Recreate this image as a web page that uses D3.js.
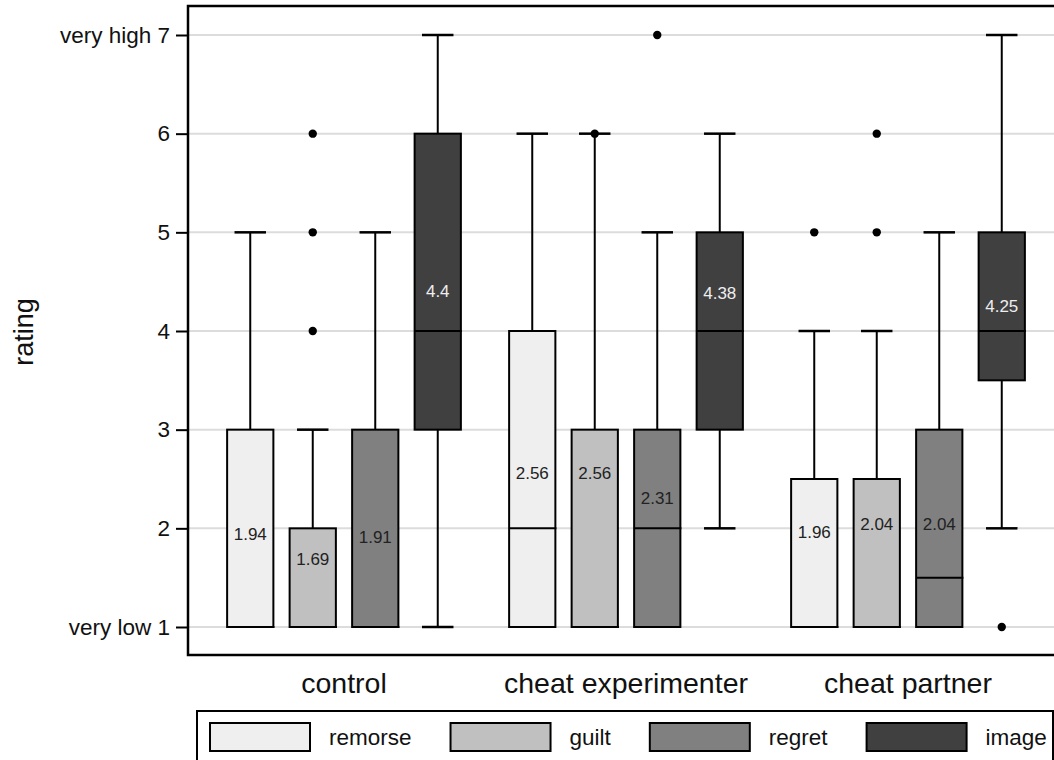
<!DOCTYPE html>
<html><head><meta charset="utf-8">
<script src="https://cdn.jsdelivr.net/npm/d3@7"></script>
<style>body{margin:0;background:#fff}svg{display:block;font-family:"Liberation Sans",Arial,sans-serif}</style>
</head><body>
<script>
const groups = ["control", "cheat experimenter", "cheat partner"];
const series = ["remorse", "guilt", "regret", "image"];
const colors = ["#efefef", "#c0c0c0", "#808080", "#404040"];
const labelColors = ["#222", "#222", "#222", "#eeeeee"];
const yTicks = [1, 2, 3, 4, 5, 6, 7];
const yTickLabels = ["very low 1", "2", "3", "4", "5", "6", "very high 7"];
// per group, per series: [lowWhisker, q1, median, q3, highWhisker]
const boxStats = [
  [[1,1,1,3,5],[1,1,1,2,3],[1,1,1,3,5],[1,3,4,6,7]],
  [[1,1,2,4,6],[1,1,1,3,6],[1,1,2,3,5],[2,3,4,5,6]],
  [[1,1,1,2.5,4],[1,1,1,2.5,4],[1,1,1.5,3,5],[2,3.5,4,5,7]]
];
const outliers = [
  [[],[4,5,6],[],[]],
  [[],[6],[7],[]],
  [[5],[5,6],[],[1]]
];
const means = [
  [1.94, 1.69, 1.91, 4.4],
  [2.56, 2.56, 2.31, 4.38],
  [1.96, 2.04, 2.04, 4.25]
];

const W = 1054, H = 760;
const svg = d3.select("body").append("svg").attr("width", W).attr("height", H);
const plotL = 188, plotT = 6, plotB = 655;
const y = d3.scaleLinear().domain([1, 7]).range([627, 35]);
const xg = d3.scaleBand().domain(groups).range([203, 1049]);
const xs = d3.scaleBand().domain(series).range([-125, 125]).paddingInner(0.26).paddingOuter(0.13);
const bw = xs.bandwidth();

// gridlines
svg.append("g").selectAll("line").data(yTicks).join("line")
  .attr("x1", plotL).attr("x2", W).attr("y1", d => y(d)).attr("y2", d => y(d))
  .attr("stroke", "#dcdcdc").attr("stroke-width", 2);

// y axis
const yAxis = d3.axisLeft(y).tickValues(yTicks).tickSize(12).tickPadding(6)
  .tickFormat((d, i) => yTickLabels[i]);
const ga = svg.append("g").attr("transform", `translate(${plotL},0)`).call(yAxis);
ga.select(".domain").remove();
ga.selectAll(".tick line").attr("stroke", "#000").attr("stroke-width", 2);
ga.selectAll(".tick text").attr("font-size", 22.5).attr("fill", "#111")
  .attr("font-family", "Liberation Sans, Arial, sans-serif");

// frame
svg.append("path").attr("d", `M${W+5},${plotT}H${plotL}V${plotB}H${W+5}`)
  .attr("fill", "none").attr("stroke", "#000").attr("stroke-width", 2.5);

// boxes
groups.forEach((g, gi) => {
  series.forEach((s, si) => {
    const [lo, q1, med, q3, hi] = boxStats[gi][si];
    const cx = xg(g) + xg.bandwidth() / 2 + xs(s) + bw / 2;
    const cap = bw * 0.68;
    const gg = svg.append("g");
    if (hi > q3) {
      gg.append("line").attr("x1", cx).attr("x2", cx).attr("y1", y(q3)).attr("y2", y(hi)).attr("stroke", "#000").attr("stroke-width", 2);
      gg.append("line").attr("x1", cx - cap/2).attr("x2", cx + cap/2).attr("y1", y(hi)).attr("y2", y(hi)).attr("stroke", "#000").attr("stroke-width", 2.5);
    }
    if (lo < q1) {
      gg.append("line").attr("x1", cx).attr("x2", cx).attr("y1", y(q1)).attr("y2", y(lo)).attr("stroke", "#000").attr("stroke-width", 2);
      gg.append("line").attr("x1", cx - cap/2).attr("x2", cx + cap/2).attr("y1", y(lo)).attr("y2", y(lo)).attr("stroke", "#000").attr("stroke-width", 2.5);
    }
    gg.append("rect").attr("x", cx - bw/2).attr("y", y(q3)).attr("width", bw).attr("height", y(q1) - y(q3))
      .attr("fill", colors[si]).attr("stroke", "#000").attr("stroke-width", 2);
    gg.append("line").attr("x1", cx - bw/2).attr("x2", cx + bw/2 + 1).attr("y1", y(med)).attr("y2", y(med))
      .attr("stroke", "#000").attr("stroke-width", 2);
    gg.selectAll("circle").data(outliers[gi][si]).join("circle")
      .attr("cx", cx).attr("cy", d => y(d)).attr("r", 4.2).attr("fill", "#000");
    gg.append("text").attr("x", cx).attr("y", y(means[gi][si])).attr("dy", "0.35em")
      .attr("text-anchor", "middle").attr("font-size", 17).attr("fill", labelColors[si])
      .text(means[gi][si]);
  });
});

// group labels
svg.append("g").selectAll("text").data(groups).join("text")
  .attr("x", d => xg(d) + xg.bandwidth() / 2).attr("y", 693)
  .attr("text-anchor", "middle").attr("font-size", 28.5).attr("fill", "#111").text(d => d);

// y label
svg.append("text").attr("transform", `translate(33,332) rotate(-90)`)
  .attr("text-anchor", "middle").attr("font-size", 27).attr("fill", "#111").text("rating");

// legend
const lg = svg.append("g");
lg.append("rect").attr("x", 197).attr("y", 711).attr("width", 856).attr("height", 60)
  .attr("fill", "#fff").attr("stroke", "#000").attr("stroke-width", 2);
let lx = 210;
series.forEach((s, si) => {
  lg.append("rect").attr("x", lx).attr("y", 723).attr("width", 100).attr("height", 28)
    .attr("fill", colors[si]).attr("stroke", "#000").attr("stroke-width", 2);
  const t = lg.append("text").attr("x", lx + 119).attr("y", 745).attr("font-size", 22.5)
    .attr("fill", "#111").text(s);
  const tw = t.node().getComputedTextLength();
  lx += 119 + tw + 39;
});
</script>
</body></html>
